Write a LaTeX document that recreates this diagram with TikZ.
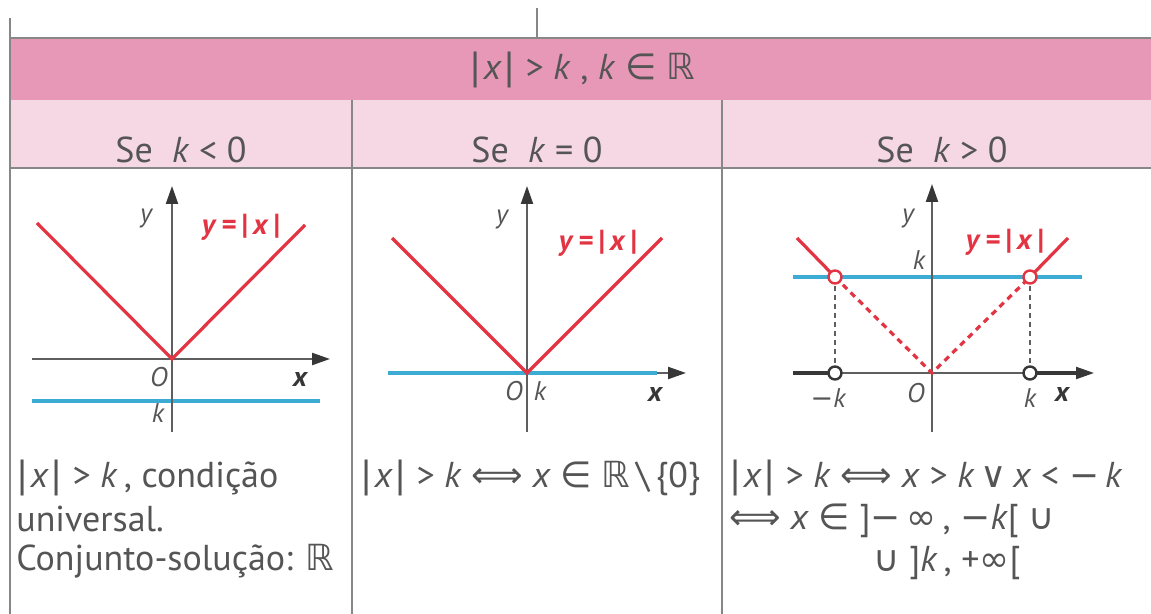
\documentclass[tikz,border=0pt]{standalone}
\usepackage{fontspec}
\setmainfont{PT Sans}
\newfontfamily\symfont{DejaVu Sans}
\usetikzlibrary{arrows.meta}
\definecolor{hdrpink}{RGB}{231,152,183}
\definecolor{subpink}{RGB}{246,216,229}
\definecolor{curvered}{RGB}{226,52,66}
\definecolor{lineblue}{RGB}{60,172,212}
\definecolor{txtgray}{RGB}{85,85,85}
\definecolor{axisgray}{RGB}{95,95,95}
\definecolor{rulegray}{RGB}{135,135,135}
\definecolor{darkaxis}{RGB}{55,55,55}
\newcommand{\sy}[1]{{\symfont #1}}
\newcommand{\ix}{\textit{x}}
\newcommand{\ik}{\textit{k}}
\newcommand{\absx}{\sy{|}\kern1pt\ix\kern1pt\sy{|}}
\tikzset{
  axisline/.style={axisgray, line width=1.1pt, -{Triangle[length=9pt,width=6pt,color=darkaxis]}},
  redline/.style={curvered, line width=1.6pt},
  reddash/.style={curvered, line width=1.6pt, dash pattern=on 3pt off 2.5pt},
  blueline/.style={lineblue, line width=1.7pt},
  guide/.style={axisgray, line width=0.6pt, dash pattern=on 2.5pt off 2pt},
  rule/.style={rulegray, line width=0.8pt},
  lbl/.style={txtgray, inner sep=0pt, font=\fontsize{13.5}{15}\selectfont\itshape},
  xlbl/.style={darkaxis, inner sep=0pt, font=\fontsize{14}{15}\selectfont\bfseries\itshape},
  fnlbl/.style={curvered, inner sep=0pt, font=\fontsize{14.5}{16}\selectfont\bfseries},
  hdr/.style={txtgray, inner sep=0pt, font=\fontsize{18}{21}\selectfont},
  body/.style={txtgray, inner sep=0pt, anchor=west, font=\fontsize{18}{21}\selectfont},
  redring/.style={circle, draw=curvered, fill=white, line width=1.2pt, inner sep=0pt, minimum size=6.5pt},
  blackring/.style={circle, draw=darkaxis, fill=white, line width=1.2pt, inner sep=0pt, minimum size=6.5pt},
}
\begin{document}
\begin{tikzpicture}[x=0.5pt,y=-0.5pt]
\useasboundingbox (0,0) rectangle (1151,614);
% table
\fill[hdrpink] (10,38) rectangle (1151,100);
\fill[subpink] (10,100) rectangle (1151,168);
\draw[rule] (10,38) -- (1151,38);
\draw[rule] (10,168) -- (1151,168);
\draw[rule] (10,18) -- (10,614);
\draw[rule] (537,8) -- (537,38);
\draw[rule] (352,100) -- (352,614);
\draw[rule] (722,100) -- (722,614);
\node[hdr] (title) at (582,70) {\absx\ > \ik\ , \ik\ \sy{∈} \sy{ℝ}};
\node[hdr] (h1) at (181,150) {Se \ \ik\ < 0};
\node[hdr] (h2) at (537,150) {Se \ \ik\ = 0};
\node[hdr] (h3) at (942,150) {Se \ \ik\ > 0};

% panel 1
\draw[blueline] (32,401) -- (320,401);
\draw[axisline] (32,359) -- (330,359);
\draw[axisline] (172,432) -- (172,186);
\draw[redline] (37,223) -- (172,359) -- (305,225);
\node[lbl] (y1) at (146,219) {y};
\node[fnlbl] (f1) at (241,227) {\textit{y}\,=\,|\,\textit{x}\,|};
\node[lbl] (o1) at (159,377) {O};
\node[xlbl] (x1) at (300,380) {x};
\node[lbl] (k1) at (158,413) {k};

% panel 2
\draw[axisline] (388,373) -- (686,373);
\draw[blueline] (388,373) -- (657,373);
\draw[axisline] (527,432) -- (527,186);
\draw[redline] (392,238) -- (527,373) -- (662,238);
\node[lbl] (y2) at (502,220) {y};
\node[fnlbl] (f2) at (598,243) {\textit{y}\,=\,|\,\textit{x}\,|};
\node[lbl] (o2) at (514,391) {O};
\node[lbl] (k2) at (540,391) {k};
\node[xlbl] (x2) at (655,394) {x};

% panel 3
\coordinate (pl) at (835,277);
\coordinate (pr) at (1030,277);
\coordinate (ql) at (835,373);
\coordinate (qr) at (1030,373);
\draw[blueline] (793,277) -- (1082,277);
\draw[axisline] (793,373) -- (1094,373);
\draw[darkaxis, line width=2.2pt] (793,373) -- (ql);
\draw[darkaxis, line width=2.2pt] (qr) -- (1078,373);
\draw[axisline] (932,432) -- (932,184);
\draw[guide] (pl) -- (ql);
\draw[guide] (pr) -- (qr);
\draw[reddash] (pl) -- (932,373) -- (pr);
\draw[redline] (797,238) -- (pl);
\draw[redline] (pr) -- (1068,238);
\node[redring] (rl) at (pl) {};
\node[redring] (rr) at (pr) {};
\node[blackring] (bl) at (ql) {};
\node[blackring] (br) at (qr) {};
\node[lbl] (y3) at (908,219) {y};
\node[lbl] (k3) at (919,260) {k};
\node[fnlbl] (f3) at (1005,242) {\textit{y}\,=\,|\,\textit{x}\,|};
\node[lbl] (mk) at (828,398) {\sy{−}k};
\node[lbl] (o3) at (916,393) {O};
\node[lbl] (kk) at (1030,398) {k};
\node[xlbl] (x3) at (1062,395) {x};

% texts
\node[body] (t11) at (16,478) {\absx\ > \ik\,, condição};
\node[body] (t12) at (16,519) {universal.};
\node[body] (t13) at (16,561) {Conjunto-solução: \sy{ℝ}};
\node[body] (t21) at (360,478) {\absx\ > \ik\ \sy{⟺} \ix\ \sy{∈} \sy{ℝ}\,\textbackslash\,\{0\}};
\node[body] (t31) at (729,478) {\absx\ > \ik\ \sy{⟺} \ix\ > \ik\,\sy{∨}\,\ix\ < \sy{−}\,\ik};
\node[body] (t32) at (729,521) {\sy{⟺} \ix\ \sy{∈} ]\sy{−}\,\sy{∞}\,, \sy{−}\ik[\ \sy{∪}};
\node[body] (t33) at (873,563) {\sy{∪} ]\ik\,, +\sy{∞}[};
\end{tikzpicture}
\end{document}
